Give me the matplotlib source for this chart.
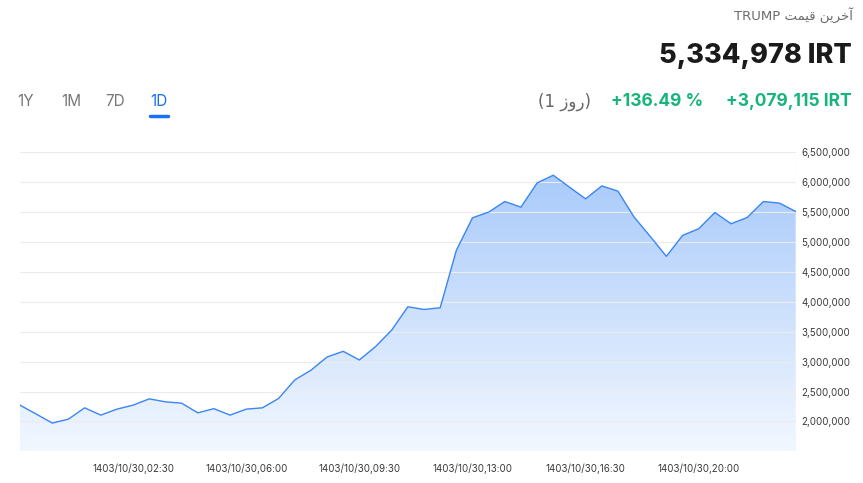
import matplotlib
matplotlib.use('Agg')
import matplotlib.pyplot as plt
import numpy as np
from matplotlib.patches import PathPatch
from matplotlib.ticker import FuncFormatter

# price every 30 minutes (IRT)
prices = [2272000, 2123000, 1972000, 2038000, 2227000, 2105000, 2205000, 2272000,
          2377000, 2327000, 2305000, 2143000, 2213000, 2105000, 2205000, 2227000,
          2383000, 2693000, 2855000, 3077000, 3172000, 3027000, 3250000, 3527000,
          3917000, 3872000, 3900000, 4860000, 5405000, 5500000, 5677000, 5583000,
          5988000, 6117000, 5917000, 5722000, 5938000, 5850000, 5417000, 5093000,
          4760000, 5110000, 5222000, 5493000, 5305000, 5410000, 5677000, 5650000,
          5510000]
tick_idx = [7, 14, 21, 28, 35, 42]
tick_labels = ['1403/10/30,02:30', '1403/10/30,06:00', '1403/10/30,09:30',
               '1403/10/30,13:00', '1403/10/30,16:30', '1403/10/30,20:00']
y_ticks = [2000000, 2500000, 3000000, 3500000, 4000000, 4500000,
           5000000, 5500000, 6000000, 6500000]
periods = ['1Y', '1M', '7D', '1D']

last_price = '5,334,978 IRT'
change_abs = '+3,079,115 IRT'
change_pct = '+136.49 %'
# Persian text in presentation forms, visual order
title_fa = 'TRUMP \uFE96\uFEE4\uFEF4\uFED7 \uFEE6\uFEF3\uFEAE\uFEA7\uFE81'
day_fa = '(1 \uFEAF\uFEED\uFEAD)'

W, H = 863, 483
fig = plt.figure(figsize=(W / 100, H / 100), dpi=100)
fig.patch.set_facecolor('white')

blue = '#3a86f5'
green = '#17b57b'
grey = '#6b6b6b'

ax = fig.add_axes([20 / W, 1 - 451.3 / H, 775.7 / W, 299 / H])
x = np.arange(len(prices))
ax.set_xlim(0, len(prices) - 1)
ax.set_ylim(1500000, 6500000)

# gradient area under the line
poly = ax.fill_between(x, prices, 1500000, facecolor='none', edgecolor='none')
clip = PathPatch(poly.get_paths()[0], transform=ax.transData, facecolor='none', edgecolor='none')
ax.add_patch(clip)
top = np.array([0.64, 0.78, 0.98])
bot = np.array([0.95, 0.97, 1.0])
t = np.linspace(0, 1, 256)[:, None]
grad = (bot + (top - bot) * t)[:, None, :]
im = ax.imshow(grad, extent=[0, len(prices) - 1, 1500000, 6500000], origin='lower',
               aspect='auto', zorder=1, interpolation='bilinear')
im.set_clip_path(clip)

ax.plot(x, prices, color=blue, lw=1.0, zorder=3)

for v in [1500000] + y_ticks:
    ax.axhline(v, color='#ececec', lw=0.8, zorder=2)
ax.axvline(len(prices) - 1, color='#e6e6e6', lw=0.8, zorder=2)

for s in ax.spines.values():
    s.set_visible(False)
ax.yaxis.tick_right()
ax.set_yticks(y_ticks)
ax.yaxis.set_major_formatter(FuncFormatter(lambda v, p: f'{int(v):,}'))
ax.set_xticks(tick_idx)
ax.set_xticklabels(tick_labels)
ax.tick_params(axis='both', length=0, labelsize=7, labelcolor='#3a3a3a')
ax.tick_params(axis='y', pad=4)
ax.tick_params(axis='x', pad=9)
for lab in ax.get_xticklabels() + ax.get_yticklabels():
    lab.set_fontfamily(['Inter', 'DejaVu Sans'])

# header
fig.text(853 / W, 1 - 15 / H, title_fa, ha='right', va='center', fontsize=9.5,
         color=grey, family=['DejaVu Sans'])
fig.text(852 / W, 1 - 56 / H, last_price, ha='right', va='center', fontsize=19.5,
         fontweight='heavy', color='#1a1a1a', family=['Inter', 'DejaVu Sans'])
fig.text(852 / W, 1 - 102 / H, change_abs, ha='right', va='center', fontsize=12.5,
         fontweight='bold', color=green, family=['Inter', 'DejaVu Sans'])
fig.text(703 / W, 1 - 102 / H, change_pct, ha='right', va='center', fontsize=12.5,
         fontweight='bold', color=green, family=['Inter', 'DejaVu Sans'])
fig.text(538 / W, 1 - 102 / H, day_fa, ha='left', va='center', fontsize=12,
         color='#666666', family=['DejaVu Sans'])

# period tabs
tab_x = [26, 71, 115, 159]
for lbl, tx in zip(periods, tab_x):
    c = '#1b6ff2' if lbl == '1D' else '#777777'
    fig.text(tx / W, 1 - 101 / H, lbl, ha='center', va='center', fontsize=11,
             color=c, family=['Inter', 'DejaVu Sans'])
fig.add_artist(plt.Line2D([150 / W, 168 / W], [1 - 115.5 / H] * 2, color='#1b6ff2',
                          lw=2.5, solid_capstyle='round'))

fig.savefig('out.png', dpi=100)
